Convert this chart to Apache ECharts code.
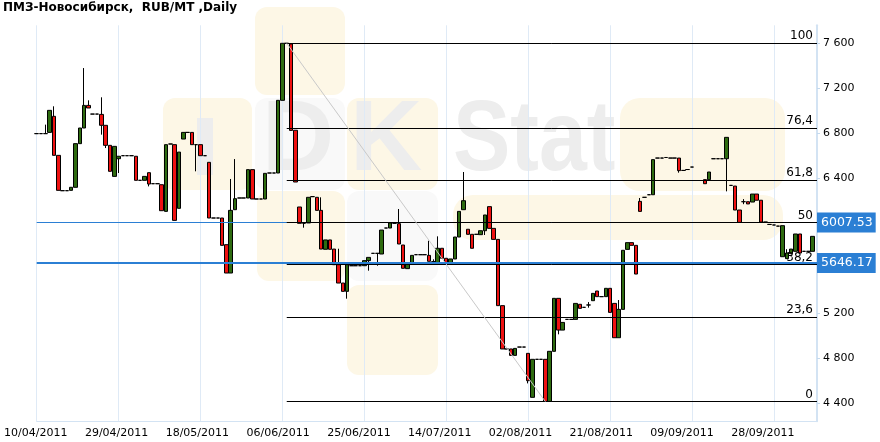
<!DOCTYPE html>
<html><head><meta charset="utf-8">
<script src="https://cdn.jsdelivr.net/npm/echarts@6/dist/echarts.min.js"></script>
<style>html,body{margin:0;padding:0;background:#fff}#c{width:880px;height:442px}</style>
</head><body><div id="c"></div>
<script>
const chartTitle = 'ПМЗ-Новосибирск,  RUB/MT ,Daily';
const startDateUTC = Date.UTC(2011, 3, 10);   // 10/04/2011 = day 0
const dateLabelStep = 19;                       // days between date labels
const lastDay = 181;
const yTickMin = 4400, yTickMax = 7600, yTickStep = 400;

// trading days (days since 10/04/2011)
const days = [
  0,1,2,3,4,5,6,7,8,9, 10,11,12,13,14,15,16,17,18,19,
  20,21,22,23,24,25,26,27,28,29, 30,31,32,33,34,35,36,37,38,39,
  40,41,42,43,44,45,46,47,48,49, 50,51,52,53,54,55,56,57,58,59,
  60,61,62,63,64,65,66,67,68,69, 70,71,72,73,74,75,76,77,78,79,
  80,81,82,83,84,85,86,87,88,89, 90,91,92,93,94,95,96,97,98,99,
  100,101,102,103,104,105,106,107,108,109, 110,111,112,113,114,115,116,117,118,119,
  120,121,122,123,124,125,126,127,128,129, 130,131,132,133,134,135,136,137,138,139,
  140,141,142,143,144,145,146,147,148,149, 150,151,152,
  155,156,157,158,159, 160,161,162,163,164,165,166,167,168,169,
  170,171,172,173,174,175,176,177,178,179,180
];
const open = [
  6797,6797,6797,6808,6951,6604,6290,6290,6293,6320, 6708,6847,7048,6971,6971,6968,6871,6693,6417,6574,
  6601,6601,6601,6596,6382,6382,6450,6352,6352,6343, 6106,6705,6699,6133,6749,6808,6808,6699,6699,6601,
  6542,6047,6047,6047,5810,5558,6121,6225,6225,6225, 6477,6216,6216,6216,6447,6447,6447,7093,7600,7594,
  6827,6145,6000,6003,6237,6231,6115,5769,5852,5771, 5632,5469,5395,5623,5623,5623,5623,5668,5733,5733,
  5727,5958,5958,6000,5997,5807,5597,5647,5721,5721, 5721,5715,5659,5644,5778,5689,5650,5683,5878,6121,
  5947,5902,5902,5899,5934,6148,5955,5857,5268,4883, 4883,4826,4900,4900,4844,4453,4791,4791,4791,4417,
  4862,5333,5051,5146,5146,5146,5280,5253,5274,5312, 5398,5348,5348,5422,5288,4983,5235,5768,5828,5804,
  6195,6231,6254,6254,6580,6580,6585,6580,6580,6580, 6470,6478,6500,
  6388,6388,6574,6574,6574, 6574,6337,6331,6118,6192,6192,6189,6260,6205,6011,
  5990,5985,5975,5703,5686,5730,5751,5905,5751,5751,5751
];
const close = [
  6797,6797,6797,7004,6604,6293,6290,6290,6320,6708, 6847,7048,7025,6971,6971,6871,6693,6462,6684,6596,
  6601,6601,6601,6382,6382,6417,6349,6352,6352,6112, 6699,6705,6026,6633,6808,6808,6699,6699,6601,6601,
  6047,6047,6047,5804,5558,6115,6219,6225,6225,6477, 6216,6216,6216,6444,6447,6447,7093,7600,7600,6826,
  6367,6000,6000,6231,6237,6115,5771,5852,5769,5632, 5469,5395,5632,5623,5623,5623,5668,5697,5733,5733,
  5940,5958,6003,6000,5816,5600,5640,5715,5721,5721, 5721,5662,5659,5778,5689,5650,5683,5878,6106,6201,
  5902,5778,5902,5934,6074,5955,5857,5268,4883,4883, 4826,4888,4900,4900,4601,4791,4791,4791,4417,4862,
  5333,5051,5119,5146,5146,5288,5244,5253,5274,5377, 5348,5348,5422,5208,4983,5235,5760,5828,5804,5549,
  6106,6231,6254,6566,6580,6580,6585,6580,6580,6468, 6470,6478,6500,
  6352,6456,6574,6574,6574, 6764,6337,6118,6008,6192,6172,6260,6205,6011,6011,
  5990,5985,5975,5979,5736,5771,5905,5736,5751,5751,5884
];
const low = [
  6797,6797,6797,6808,6604,6293,6290,6290,6293,6320, 6708,6847,7025,6971,6971,6788,6669,6462,6417,6447,
  6601,6601,6601,6382,6382,6382,6328,6352,6352,6112, 6106,6705,6026,6133,6749,6808,6699,6462,6601,6601,
  6047,6047,6047,5804,5558,5558,6121,6225,6225,6225, 6216,6216,6216,6216,6447,6447,6447,7093,7600,6826,
  6367,6000,5961,6003,6237,6115,5771,5769,5769,5632, 5469,5395,5330,5623,5623,5623,5623,5579,5733,5623,
  5727,5958,5958,6000,5816,5600,5597,5647,5721,5721, 5721,5662,5640,5644,5689,5650,5650,5683,5878,6121,
  5902,5778,5902,5899,5896,5955,5857,5268,4883,4883, 4826,4826,4900,4900,4577,4453,4791,4791,4415,4415,
  4862,5013,5051,5146,5146,5146,5244,5253,5250,5312, 5348,5348,5348,5208,4983,4983,5235,5768,5804,5549,
  6106,6231,6254,6254,6580,6580,6585,6580,6580,6450, 6470,6478,6500,
  6352,6388,6574,6574,6574, 6284,6337,6118,6008,6170,6172,6189,6205,6011,6011,
  5990,5985,5975,5703,5686,5730,5751,5736,5751,5751,5751
];
const high = [
  6797,6797,6877,7004,7040,6604,6290,6290,6320,6708, 6847,7380,7093,6971,6971,7120,6871,6693,6684,6596,
  6601,6601,6601,6596,6382,6417,6450,6352,6352,6343, 6699,6705,6699,6633,6808,6808,6808,6699,6699,6601,
  6542,6047,6047,6047,5810,6394,6571,6225,6225,6477, 6477,6216,6216,6444,6447,6447,7093,7600,7600,7600,
  6827,6145,6000,6231,6237,6231,6231,5852,5852,5771, 5774,5469,5632,5623,5623,5623,5668,5697,5733,5733,
  5940,5958,6003,6000,6127,5807,5640,5715,5721,5721, 5721,5845,5680,5884,5778,5689,5683,5878,6106,6456,
  5947,5902,5902,5934,6074,6148,5955,5857,5268,4883, 4883,4888,4900,4900,4844,4791,4791,4791,4791,4862,
  5333,5333,5119,5146,5146,5288,5280,5253,5300,5377, 5398,5348,5422,5422,5288,5318,5760,5828,5828,5804,
  6225,6231,6254,6566,6580,6580,6585,6580,6580,6580, 6470,6478,6500,
  6388,6456,6574,6574,6574, 6764,6337,6331,6118,6215,6192,6260,6260,6205,6011,
  5990,5985,5975,5979,5770,5771,5905,5905,5751,5751,5884
];

// Fibonacci retracement
const fibLevels = [0, 23.6, 38.2, 50, 61.8, 76.4, 100];
const fibLabels = ['0', '23,6', '38,2', '50', '61,8', '76,4', '100'];
const fibHigh = 7600, fibLow = 4415.06;
const fibHighDay = 58, fibLowDay = 118;

// horizontal price lines
const priceLines = [6007.53, 5646.17];
const priceLabels = ['6007.53', '5646.17'];

const FONT = 'DejaVu Sans';
const GRID_BLUE = '#dfeaf6';
const AXIS_BLUE = '#d3e3f3';
const MARK_BLUE = '#2b7fd4';

const rows = days.map((d, i) => [d, open[i], close[i], low[i], high[i]]);

function fmtDate(v) {
  const d = new Date(startDateUTC + Math.round(v) * 86400000);
  const p = n => (n < 10 ? '0' : '') + n;
  return p(d.getUTCDate()) + '/' + p(d.getUTCMonth() + 1) + '/' + d.getUTCFullYear();
}
function fmtPrice(v) {
  return String(v).replace(/\B(?=(\d{3})+(?!\d))/g, ' ');
}

const fibLines = fibLevels.map((lv, i) => {
  const val = fibLow + (fibHigh - fibLow) * lv / 100;
  return [
    { coord: [fibHighDay, val], lineStyle: { color: '#000', width: 1, type: 'solid' },
      label: { show: true, position: 'insideEndTop', formatter: fibLabels[i], color: '#000',
               fontSize: 12, fontFamily: FONT, distance: [4, 1] } },
    { coord: [lastDay, val] }
  ];
});

const priceLineItem = (i, width) => ({
  yAxis: priceLines[i],
  lineStyle: { color: MARK_BLUE, width: width, type: 'solid' },
  label: { show: true, position: 'end', formatter: priceLabels[i], color: '#fff',
           backgroundColor: MARK_BLUE, padding: [4, 3, 3, 4], fontSize: 12.5,
           fontFamily: FONT, distance: 0 }
});

const wm = '#fdf7e6', wmWhite = '#f9f9f9', wmGray = '#ededed';
const watermark = [
  { type: 'rect', shape: { x: 255, y: 7, width: 90, height: 88, r: 12 }, style: { fill: wm } },
  { type: 'rect', shape: { x: 163, y: 98, width: 89, height: 92, r: 12 }, style: { fill: wm } },
  { type: 'rect', shape: { x: 255, y: 98, width: 90, height: 92, r: 12 }, style: { fill: wmWhite } },
  { type: 'rect', shape: { x: 347, y: 98, width: 91, height: 92, r: 12 }, style: { fill: wm } },
  { type: 'rect', shape: { x: 257, y: 191, width: 88, height: 90, r: 12 }, style: { fill: wm } },
  { type: 'rect', shape: { x: 347, y: 191, width: 91, height: 90, r: 12 }, style: { fill: wmWhite } },
  { type: 'rect', shape: { x: 347, y: 285, width: 91, height: 90, r: 12 }, style: { fill: wm } },
  { type: 'rect', shape: { x: 453, y: 195, width: 330, height: 45, r: 20 }, style: { fill: wm } },
  { type: 'rect', shape: { x: 620, y: 98, width: 165, height: 93, r: 20 }, style: { fill: wm } },
  { type: 'rect', shape: { x: 197, y: 118, width: 16, height: 57 }, style: { fill: wmGray } },
  { type: 'text', x: 262, y: 142, style: { text: 'D', font: 'bold 100px "Liberation Sans"', fill: wmGray, verticalAlign: 'middle' } },
  { type: 'text', x: 350, y: 142, style: { text: 'K', font: 'bold 100px "Liberation Sans"', fill: wmGray, verticalAlign: 'middle' } },
  { type: 'text', x: 453, y: 142, scaleX: 0.86, style: { text: 'Stat', font: 'bold 100px "Liberation Sans"', fill: wmGray, verticalAlign: 'middle' } }
].map(e => Object.assign(e, { z: -1, silent: true }));

const chart = echarts.init(document.getElementById('c'), null, { renderer: 'canvas' });
chart.setOption({
  animation: false,
  backgroundColor: '#fff',
  textStyle: { fontFamily: FONT },
  title: { text: chartTitle, left: 3, top: 2, padding: 0,
           textStyle: { fontFamily: FONT, fontSize: 12, fontWeight: 'bold', color: '#000' } },
  graphic: watermark,
  grid: [
    { left: 36.7, right: 63, top: 25.3, bottom: 20.7 },
    { left: 35.8, right: 63, top: 43.3, bottom: 38.7 }
  ],
  xAxis: [
    { gridIndex: 0, type: 'value', min: 0, max: lastDay, interval: dateLabelStep,
      axisLine: { show: true, onZero: false, lineStyle: { color: AXIS_BLUE, width: 1 } },
      axisTick: { show: false }, axisLabel: { show: false },
      splitLine: { show: true, lineStyle: { color: GRID_BLUE, width: 1 } } },
    { gridIndex: 1, type: 'value', min: 0, max: 183.74, interval: dateLabelStep,
      axisLine: { show: false, onZero: false }, axisTick: { show: false }, splitLine: { show: false },
      axisLabel: { margin: 24, fontSize: 11, color: '#000', fontFamily: FONT,
                   showMaxLabel: false, formatter: fmtDate } }
  ],
  yAxis: [
    { gridIndex: 0, type: 'value', position: 'right', min: 4240, max: 7760,
      axisLine: { show: true, onZero: false, lineStyle: { color: AXIS_BLUE, width: 2 } },
      axisTick: { show: false }, axisLabel: { show: false }, splitLine: { show: false } },
    { gridIndex: 1, type: 'value', position: 'right', min: yTickMin, max: yTickMax, interval: yTickStep,
      axisLine: { show: false, onZero: false },
      axisTick: { show: true, length: 3, lineStyle: { color: '#c4d9ee', width: 1 } },
      axisLabel: { margin: 6, fontSize: 11, color: '#000', fontFamily: FONT, formatter: fmtPrice },
      splitLine: { show: false } }
  ],
  series: [
    { type: 'line', xAxisIndex: 0, yAxisIndex: 0, data: [], z: 1,
      markLine: { silent: true, symbol: ['none', 'none'], animation: false,
        data: [priceLineItem(0, 1)].concat(fibLines).concat([[
          { coord: [fibHighDay, fibHigh], lineStyle: { color: '#c9c9c9', width: 1, type: 'solid' }, label: { show: false } },
          { coord: [fibLowDay, fibLow] }
        ]]) } },
    { type: 'candlestick', xAxisIndex: 0, yAxisIndex: 0, z: 2, barWidth: 4,
      data: rows, encode: { x: 0, y: [1, 2, 3, 4] },
      itemStyle: { color: '#2e6b10', color0: '#ee1111', borderColor: '#000', borderColor0: '#000', borderWidth: 1 } },
    { type: 'line', xAxisIndex: 0, yAxisIndex: 0, data: [], z: 3,
      markLine: { silent: true, symbol: ['none', 'none'], animation: false,
        data: [priceLineItem(1, 2)] } }
  ]
});
</script></body></html>
